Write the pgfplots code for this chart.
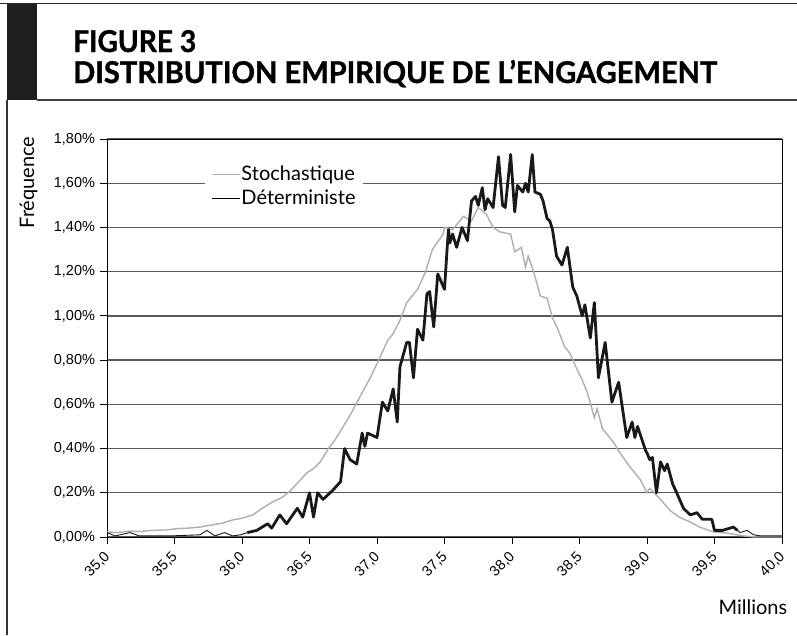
\documentclass[border=0pt]{standalone}
\usepackage{graphicx}
\usepackage{pgfplots}
\pgfplotsset{compat=1.18}
\usepackage{fontspec}
\setmainfont{Lato}
\newfontfamily\arial{Liberation Sans}
\newfontfamily\titlefont{Lato}[FakeBold=1.2]
\definecolor{stoch}{RGB}{175,175,175}
\definecolor{determ}{RGB}{25,25,25}
\definecolor{gridc}{RGB}{90,90,90}

\begin{document}
\begin{tikzpicture}
\useasboundingbox (0pt,0pt) rectangle (797pt,-635pt);
\fill[white] (0pt,0pt) rectangle (797pt,-635pt);
% frame
\draw[line width=1.5pt, black!85] (0pt,-3.5pt) -- (797pt,-3.5pt);
\fill[black!88] (7pt,-3.5pt) rectangle (37pt,-100pt);
\draw[line width=1.5pt, black!75] (37pt,-100pt) -- (797pt,-100pt);
\draw[line width=1.5pt, black!80] (7pt,-100pt) -- (7pt,-635pt);
% title
\node[anchor=base west, inner sep=0pt] at (73pt,-52pt)
  {\resizebox{123pt}{\height}{\fontsize{30}{30}\selectfont\titlefont\bfseries FIGURE 3}};
\node[anchor=base west, inner sep=0pt] at (73pt,-83pt)
  {\resizebox{644pt}{\height}{\fontsize{30}{30}\selectfont\titlefont\bfseries DISTRIBUTION EMPIRIQUE DE L’ENGAGEMENT}};

\begin{axis}[
  at={(107pt,-537pt)}, anchor=south west,
  width=675pt, height=398pt, scale only axis,
  xmin=35, xmax=40, ymin=0, ymax=1.8,
  xtick={35,35.5,36,36.5,37,37.5,38,38.5,39,39.5,40},
  ytick={0,0.2,0.4,0.6,0.8,1.0,1.2,1.4,1.6,1.8},
  xtick pos=lower, ytick pos=left,
  tick align=outside, major tick length=7pt,
  axis line style={black, line width=1pt},
  tick style={black, line width=0.8pt},
  ymajorgrids, major grid style={line width=1.4pt, color=gridc},
  /pgf/number format/assume math mode=true,
  xticklabel={\pgfmathprintnumber[fixed,fixed zerofill,precision=1,use comma]{\tick}},
  yticklabel={\pgfmathprintnumber[fixed,fixed zerofill,precision=2,use comma]{\tick}\%},
  xticklabel style={xshift=3pt, yshift=-8pt, rotate=45, anchor=east, font=\arial\fontsize{14.5}{14.5}\selectfont},
  yticklabel style={xshift=-1.5pt, font=\arial\fontsize{14.5}{14.5}\selectfont},
  xlabel={Millions},
  xlabel style={at={(axis description cs:1.008,-0.194)}, anchor=base east, inner sep=0pt, font=\fontsize{20}{20}\selectfont},
  ylabel={Fréquence},
  ylabel style={at={(axis description cs:-0.108,1.015)}, anchor=base east, rotate=0, font=\fontsize{20}{20}\selectfont},
  legend style={at={(axis description cs:0.145,0.94)}, anchor=north west, draw=none, fill=white,
     font=\fontsize{20}{22}\selectfont, inner xsep=6pt, inner ysep=2pt, row sep=6pt,
     nodes={inner xsep=1pt, inner ysep=1pt}},
  legend cell align=left,
  legend image code/.code={\draw[#1] (0pt,0pt) -- (28pt,0pt);},
]
\addlegendimage{stoch, line width=1.4pt}
\addlegendentry{Stochastique}
\addlegendimage{black, line width=0.8pt}
\addlegendentry{Déterministe}

% Stochastique
\addplot[stoch, line width=1.4pt, forget plot] coordinates {
(35.00,0.023)(35.08,0.020)(35.17,0.027)(35.25,0.025)(35.33,0.030)(35.44,0.032)(35.52,0.038)(35.60,0.040)
(35.69,0.045)(35.78,0.055)(35.85,0.062)(35.93,0.077)(36.00,0.085)(36.08,0.10)(36.15,0.13)(36.23,0.16)
(36.30,0.18)(36.36,0.21)(36.42,0.25)(36.48,0.29)(36.53,0.31)(36.58,0.34)(36.64,0.40)(36.69,0.44)
(36.73,0.48)(36.80,0.55)(36.87,0.63)(36.95,0.72)(37.02,0.81)(37.08,0.89)(37.12,0.92)(37.17,0.98)
(37.22,1.06)(37.30,1.12)(37.36,1.20)(37.41,1.30)(37.49,1.37)(37.50,1.40)(37.56,1.39)(37.64,1.45)
(37.70,1.43)(37.75,1.49)(37.81,1.46)(37.86,1.40)(37.91,1.38)(37.99,1.37)(38.02,1.29)(38.07,1.31)
(38.10,1.22)(38.12,1.27)(38.16,1.20)(38.21,1.09)(38.26,1.08)(38.30,0.99)(38.34,0.94)(38.39,0.86)
(38.43,0.83)(38.48,0.76)(38.52,0.71)(38.56,0.65)(38.61,0.54)(38.63,0.58)(38.67,0.49)(38.75,0.43)
(38.80,0.38)(38.87,0.32)(38.95,0.26)(39.00,0.20)(39.02,0.22)(39.10,0.17)(39.17,0.12)(39.24,0.09)
(39.32,0.068)(39.39,0.045)(39.49,0.023)(39.59,0.018)(39.71,0.005)(39.80,0.0)(40.00,0.0)
};
% Deterministe, thin left tail
\addplot[determ, line width=0.9pt, forget plot] coordinates {
(35.00,0.02)(35.06,0.005)(35.17,0.02)(35.24,0.005)(35.47,0.005)(35.69,0.01)(35.74,0.03)(35.80,0.005)
(35.87,0.02)(35.93,0.005)(35.99,0.01)(36.04,0.02)
};
% Deterministe, main part
\addplot[determ, line width=2.8pt, line join=round, forget plot] coordinates {
(36.04,0.02)(36.11,0.03)(36.19,0.06)(36.22,0.04)(36.28,0.10)(36.33,0.06)(36.41,0.13)(36.45,0.09)
(36.50,0.20)(36.53,0.09)(36.56,0.20)(36.60,0.17)(36.67,0.21)(36.73,0.25)(36.76,0.40)(36.80,0.35)
(36.85,0.33)(36.89,0.47)(36.91,0.41)(36.93,0.47)(37.00,0.45)(37.04,0.61)(37.08,0.57)(37.12,0.67)
(37.15,0.52)(37.17,0.77)(37.22,0.88)(37.24,0.88)(37.27,0.72)(37.30,0.94)(37.34,0.89)(37.37,1.10)
(37.39,1.11)(37.42,0.95)(37.45,1.19)(37.50,1.12)(37.52,1.31)(37.53,1.39)(37.54,1.33)(37.56,1.37)
(37.59,1.31)(37.63,1.40)(37.67,1.34)(37.70,1.52)(37.73,1.54)(37.75,1.50)(37.78,1.58)(37.80,1.48)
(37.82,1.53)(37.86,1.49)(37.90,1.72)(37.93,1.50)(37.95,1.49)(37.99,1.73)(38.02,1.47)(38.04,1.59)
(38.08,1.56)(38.10,1.60)(38.12,1.56)(38.15,1.73)(38.17,1.56)(38.21,1.55)(38.23,1.52)(38.26,1.44)
(38.28,1.43)(38.30,1.39)(38.33,1.27)(38.37,1.23)(38.41,1.31)(38.45,1.13)(38.48,1.09)(38.52,1.00)
(38.54,1.05)(38.58,0.90)(38.61,1.06)(38.64,0.72)(38.69,0.88)(38.74,0.61)(38.79,0.70)(38.85,0.45)
(38.89,0.52)(38.91,0.45)(38.93,0.50)(38.99,0.39)(39.00,0.38)(39.02,0.35)(39.04,0.36)(39.07,0.20)
(39.10,0.34)(39.13,0.30)(39.15,0.33)(39.19,0.24)(39.22,0.20)(39.27,0.13)(39.32,0.10)(39.37,0.11)
(39.41,0.08)(39.48,0.08)(39.50,0.03)(39.56,0.03)(39.64,0.045)(39.67,0.03)
};
% Deterministe, thin right tail
\addplot[determ, line width=0.9pt, forget plot] coordinates {
(39.67,0.03)(39.69,0.02)(39.74,0.03)(39.79,0.01)(39.84,0.005)(40.00,0.005)
};
\end{axis}
\end{tikzpicture}
\end{document}
